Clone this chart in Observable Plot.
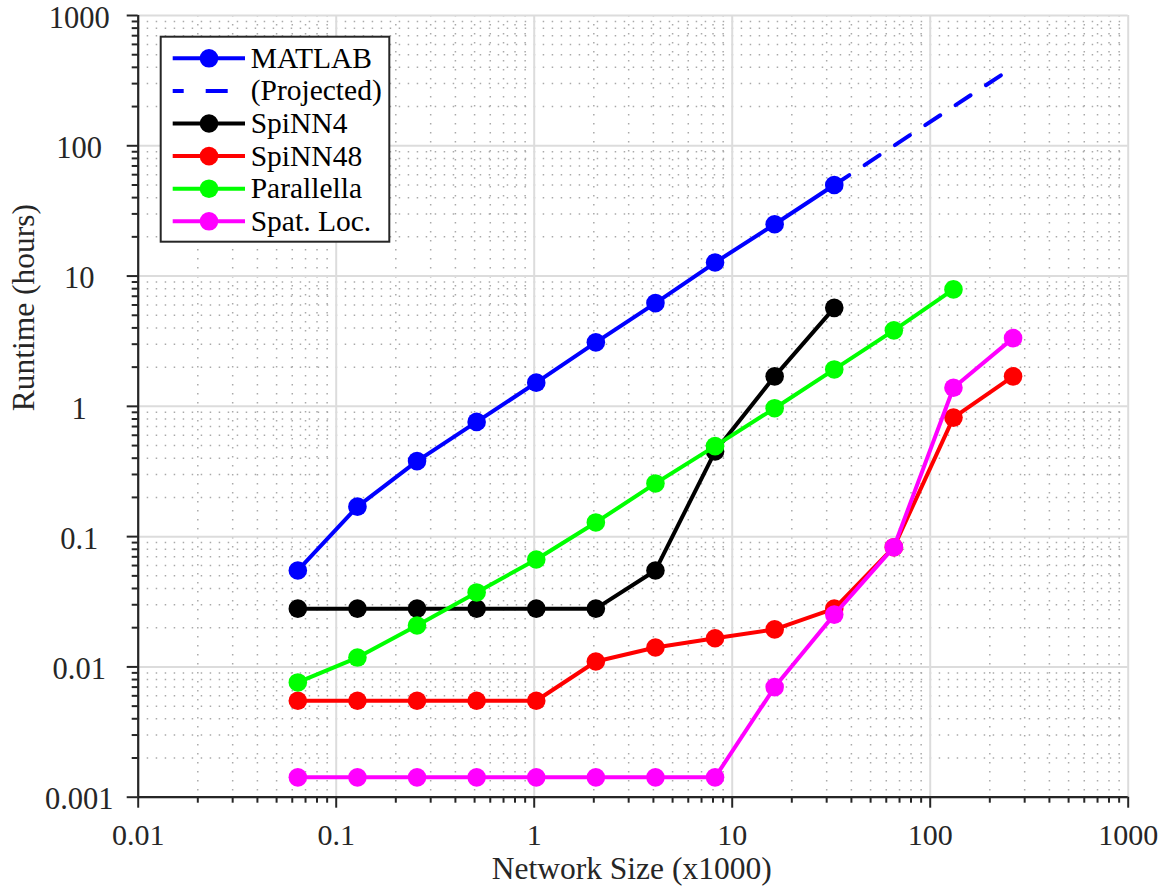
<!DOCTYPE html>
<html>
<head>
<meta charset="utf-8">
<script src="https://cdn.jsdelivr.net/npm/d3@7"></script>
<script src="https://cdn.jsdelivr.net/npm/@observablehq/plot@0.6"></script>
<style>
  html, body { margin: 0; padding: 0; background: #fff; }
  #chart svg { display: block; }
</style>
</head>
<body>
<div id="chart"></div>
<script>
// ---- Data ----
const networkSizes = [0.064, 0.128, 0.256, 0.512, 1.024, 2.048, 4.096, 8.192, 16.384, 32.768, 65.536, 131.072, 262.144];
const matlabRuntime = [0.055, 0.17, 0.38, 0.76, 1.52, 3.1, 6.2, 12.7, 25, 50];
const projectedSizes = [32.768, 262.144];
const projectedRuntime = [50, 400];
const spinn4Runtime = [0.028, 0.028, 0.028, 0.028, 0.028, 0.028, 0.055, 0.45, 1.7, 5.7];
const spinn48Runtime = [0.0055, 0.0055, 0.0055, 0.0055, 0.0055, 0.011, 0.0141, 0.0166, 0.0194, 0.028, 0.083, 0.82, 1.7];
const parallellaRuntime = [0.0076, 0.0118, 0.0208, 0.0373, 0.0668, 0.1285, 0.256, 0.495, 0.968, 1.92, 3.83, 7.9];
const spatLocRuntime = [0.00142, 0.00142, 0.00142, 0.00142, 0.00142, 0.00142, 0.00142, 0.00142, 0.007, 0.0252, 0.083, 1.39, 3.34];

const seriesNames = ["MATLAB", "(Projected)", "SpiNN4", "SpiNN48", "Parallella", "Spat. Loc."];
const seriesColors = ["#0000ff", "#0000ff", "#000000", "#ff0000", "#00ff00", "#ff00ff"];

const xTickValues = [0.01, 0.1, 1, 10, 100, 1000];
const xTickLabels = ["0.01", "0.1", "1", "10", "100", "1000"];
const yTickValues = [0.001, 0.01, 0.1, 1, 10, 100, 1000];
const yTickLabels = ["0.001", "0.01", "0.1", "1", "10", "100", "1000"];
const xAxisLabel = "Network Size (x1000)";
const yAxisLabel = "Runtime (hours)";

// ---- Helpers ----
function minorTicks(lo, hi) {
  const out = [];
  for (let e = lo; e < hi; e++) for (let k = 2; k <= 9; k++) out.push(+(k * Math.pow(10, e)).toPrecision(6));
  return out;
}
const xMinor = minorTicks(-2, 3);
const yMinor = minorTicks(-3, 3);

function rows(name, ys, xs = networkSizes) {
  return ys.map((y, i) => ({x: xs[i], y, name}));
}
const matlabData = rows(seriesNames[0], matlabRuntime);
const projectedData = rows(seriesNames[1], projectedRuntime, projectedSizes);
const spinn4Data = rows(seriesNames[2], spinn4Runtime);
const spinn48Data = rows(seriesNames[3], spinn48Runtime);
const parallellaData = rows(seriesNames[4], parallellaRuntime);
const spatLocData = rows(seriesNames[5], spatLocRuntime);

const FONT = "'Liberation Serif', 'Times New Roman', serif";
const AXIS = "#262626";

function series(data, color, dashed) {
  const m = [Plot.line(data, {x: "x", y: "y", stroke: color, strokeWidth: 4, strokeLinejoin: "round",
    strokeDasharray: dashed ? "18,18.3" : undefined})];
  if (!dashed) m.push(Plot.dot(data, {x: "x", y: "y", r: 9.3, fill: color, stroke: "none"}));
  return m;
}

const plot = Plot.plot({
  width: 1171,
  height: 890,
  marginLeft: 137.7,
  marginRight: 43.3,
  marginTop: 15,
  marginBottom: 93.3,
  style: {fontFamily: FONT, fontSize: "30px", background: "#fff", color: AXIS},
  x: {type: "log", domain: [0.01, 1000]},
  y: {type: "log", domain: [0.001, 1000]},
  marks: [
    // minor grid (dotted)
    Plot.gridX(xMinor, {stroke: "#a9a9a9", strokeOpacity: 1, strokeWidth: 1.5, strokeDasharray: "1.5,7.5"}),
    Plot.gridY(yMinor, {stroke: "#a9a9a9", strokeOpacity: 1, strokeWidth: 1.5, strokeDasharray: "1.5,7.5"}),
    // major grid
    Plot.gridX(xTickValues, {stroke: "#dcdcdc", strokeOpacity: 1, strokeWidth: 2}),
    Plot.gridY(yTickValues, {stroke: "#dcdcdc", strokeOpacity: 1, strokeWidth: 2}),
    // ticks
    Plot.axisX({ticks: xTickValues, tickSize: 11, tickFormat: () => "", label: null, stroke: AXIS, strokeWidth: 2}),
    Plot.axisX({ticks: xMinor, tickSize: 6, tickFormat: () => "", label: null, stroke: AXIS, strokeWidth: 2}),
    Plot.axisY({ticks: yTickValues, tickSize: 11, tickFormat: () => "", label: null, stroke: AXIS, strokeWidth: 2}),
    Plot.axisY({ticks: yMinor, tickSize: 6, tickFormat: () => "", label: null, stroke: AXIS, strokeWidth: 2}),
    // axis lines
    Plot.ruleX([0.01], {stroke: AXIS, strokeWidth: 2.2}),
    Plot.ruleY([0.001], {stroke: AXIS, strokeWidth: 2.2}),
    // tick labels
    Plot.text(xTickValues, {x: d => d, text: (d, i) => xTickLabels[i], frameAnchor: "bottom", lineAnchor: "bottom",
      dy: 47.5, fontSize: 30, fill: AXIS}),
    Plot.text(yTickValues, {y: d => d, text: (d, i) => yTickLabels[i], frameAnchor: "left", lineAnchor: "middle",
      textAnchor: "middle", dx: -59, dy: 2.5, fontSize: 30.5, fill: AXIS}),
    // axis titles
    Plot.text([xAxisLabel], {frameAnchor: "bottom", lineAnchor: "bottom", dy: 82, text: d => d, fontSize: 31.5, fill: AXIS, dx: -1.5}),
    Plot.text([yAxisLabel], {frameAnchor: "left", lineAnchor: "middle", rotate: -90, dx: -114, dy: 5, text: d => d, fontSize: 31.5, fill: AXIS}),
    // data
    ...series(matlabData, seriesColors[0]),
    ...series(projectedData, seriesColors[1], true),
    ...series(spinn4Data, seriesColors[2]),
    ...series(spinn48Data, seriesColors[3]),
    ...series(parallellaData, seriesColors[4]),
    ...series(spatLocData, seriesColors[5])
  ]
});

document.getElementById("chart").appendChild(plot);

// ---- Legend (inside the plot, top-left) ----
const svg = d3.select(plot.tagName.toLowerCase() === "svg" ? plot : plot.querySelector("svg"));
const lg = svg.append("g").attr("class", "legend").attr("text-anchor", "start");
lg.append("rect")
  .attr("x", 160.7).attr("y", 36.7).attr("width", 228.6).attr("height", 205)
  .attr("fill", "#fff").attr("stroke", AXIS).attr("stroke-width", 2);
seriesNames.forEach((name, i) => {
  const cy = 58.3 + i * 32.6;
  const color = seriesColors[i];
  const dashed = name === "(Projected)";
  const line = lg.append("line")
    .attr("x1", 172.7).attr("x2", 245).attr("y1", cy).attr("y2", cy)
    .attr("stroke", color).attr("stroke-width", 4);
  if (dashed) {
    line.attr("stroke-dasharray", "22,22").attr("stroke-dashoffset", 11);
  } else {
    lg.append("circle").attr("cx", 209).attr("cy", cy).attr("r", 9.3).attr("fill", color);
  }
  lg.append("text")
    .attr("x", 250.7).attr("y", cy + 9.5)
    .attr("text-anchor", "start")
    .attr("font-family", FONT).attr("font-size", 29.5).attr("fill", "#000")
    .text(name);
});
</script>
</body>
</html>
